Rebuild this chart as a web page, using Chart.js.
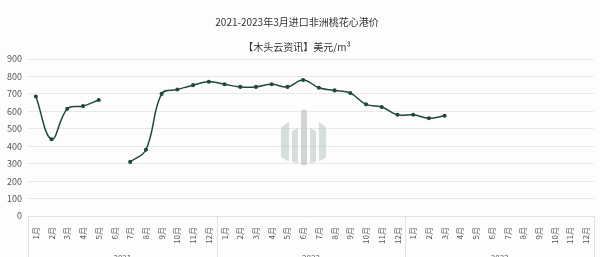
<!DOCTYPE html>
<html>
<head>
<meta charset="utf-8">
<script src="https://cdn.jsdelivr.net/npm/chart.js@4.4.1/dist/chart.umd.min.js"></script>
<style>
  html, body { margin: 0; padding: 0; background: #fdfdfd; }
  #wrap { width: 600px; height: 257px; }
</style>
</head>
<body>
<div id="wrap"><canvas id="priceChart"></canvas></div>
<script>
// ======================================
// DATA
// ======================================
const years = ["2021", "2022", "2023"];
const months = ["1月", "2月", "3月", "4月", "5月", "6月", "7月", "8月", "9月", "10月", "11月", "12月"];
const price2021 = [685, 440, 615, 630, 665, null, 310, 380, 700, 725, 750, 770];
const price2022 = [755, 740, 740, 755, 740, 780, 735, 720, 705, 640, 625, 580];
const price2023 = [580, 560, 575, null, null, null, null, null, null, null, null, null];
const yTicks = [0, 100, 200, 300, 400, 500, 600, 700, 800, 900];

const labels = [];
years.forEach(() => months.forEach(m => labels.push(m)));
const prices = [...price2021, ...price2022, ...price2023];

const FONT = "'Noto Sans CJK SC', 'Noto Sans', sans-serif";
const LINE = "#1f4a40";

// ======================================
// PLUGINS
// ======================================
// year separators under the month axis
const yearLines = {
    id: "yearLines",
    afterDraw(chart) {
        const x = chart.scales.x;
        const c = chart.ctx;
        const top = chart.chartArea.bottom;
        c.save();
        c.strokeStyle = "#e2e2e2";
        c.lineWidth = 1;
        for (let i = 0; i <= years.length; i++) {
            const px = Math.round(x.getPixelForValue(i * 12 - 0.5)) + 0.5;
            c.beginPath();
            c.moveTo(px, top);
            c.lineTo(px, chart.height);
            c.stroke();
        }
        c.restore();
    }
};

// faint logo watermark in the middle
const watermark = {
    id: "watermark",
    beforeDatasetsDraw(chart) {
        const a = chart.chartArea;
        const c = chart.ctx;
        const cx = (a.left + a.right) / 2 - 8;
        const cy = (a.top + a.bottom) / 2;
        c.save();
        c.fillStyle = "rgba(185,196,194,0.55)";
        // left outer wing
        c.beginPath();
        c.moveTo(cx - 22, cy - 10);
        c.lineTo(cx - 14, cy - 16);
        c.lineTo(cx - 14, cy + 24);
        c.lineTo(cx - 22, cy + 20);
        c.closePath(); c.fill();
        // left inner
        c.beginPath();
        c.moveTo(cx - 11, cy - 6);
        c.lineTo(cx - 5, cy - 10);
        c.lineTo(cx - 5, cy + 26);
        c.lineTo(cx - 11, cy + 24);
        c.closePath(); c.fill();
        // center bar
        c.fillStyle = "rgba(175,188,186,0.6)";
        c.beginPath(); c.roundRect(cx - 2, cy - 28, 6, 56, 3); c.fill();
        // right inner
        c.fillStyle = "rgba(185,196,194,0.55)";
        c.beginPath();
        c.moveTo(cx + 7, cy - 10);
        c.lineTo(cx + 13, cy - 6);
        c.lineTo(cx + 13, cy + 24);
        c.lineTo(cx + 7, cy + 26);
        c.closePath(); c.fill();
        // right outer wing
        c.beginPath();
        c.moveTo(cx + 16, cy - 16);
        c.lineTo(cx + 23, cy - 10);
        c.lineTo(cx + 23, cy + 20);
        c.lineTo(cx + 16, cy + 24);
        c.closePath(); c.fill();
        c.restore();
    }
};

// ======================================
// CHART INIT
// ======================================
const ctx = document.getElementById("priceChart");
new Chart(ctx, {
    type: "line",
    data: {
        labels: labels,
        datasets: [{
            data: prices,
            borderColor: LINE,
            backgroundColor: LINE,
            borderWidth: 1.5,
            tension: 0.4,
            pointRadius: 1.3,
            pointHoverRadius: 1.5,
            spanGaps: false
        }]
    },
    plugins: [yearLines, watermark],
    options: {
        responsive: true,
        maintainAspectRatio: false,
        animation: false,
        layout: { padding: { left: 0, right: 6, top: 0, bottom: 0 } },
        plugins: {
            legend: { display: false },
            tooltip: { enabled: false },
            title: {
                display: true,
                text: "2021-2023年3月进口非洲桃花心港价",
                color: "#333",
                font: { family: FONT, size: 10, weight: "normal" },
                padding: { top: 16, bottom: 13 }
            },
            subtitle: {
                display: true,
                text: "【木头云资讯】美元/m³",
                color: "#333",
                font: { family: FONT, size: 10, weight: "normal" },
                padding: { top: 0, bottom: 6 }
            }
        },
        scales: {
            y: {
                min: 0,
                max: 900,
                afterBuildTicks: s => { s.ticks = yTicks.map(v => ({ value: v })); },
                afterFit: s => { s.width = 28; },
                border: { display: false },
                grid: { color: "#e8e8e8", drawTicks: false },
                ticks: { color: "#555", font: { family: FONT, size: 9 }, padding: 6 }
            },
            x: {
                offset: true,
                afterFit: s => { s.height = 29; },
                border: { display: true, color: "#e2e2e2" },
                grid: { display: false },
                ticks: {
                    autoSkip: false,
                    minRotation: 90,
                    maxRotation: 90,
                    color: "#555",
                    font: { family: FONT, size: 8 },
                    padding: 3
                }
            },
            x2: {
                type: "category",
                labels: years,
                position: "bottom",
                offset: true,
                afterFit: s => { s.height = 12; },
                border: { display: false },
                grid: { display: false },
                ticks: { color: "#555", font: { family: FONT, size: 8 }, padding: 0, maxRotation: 0 }
            }
        }
    }
});
</script>
</body>
</html>
